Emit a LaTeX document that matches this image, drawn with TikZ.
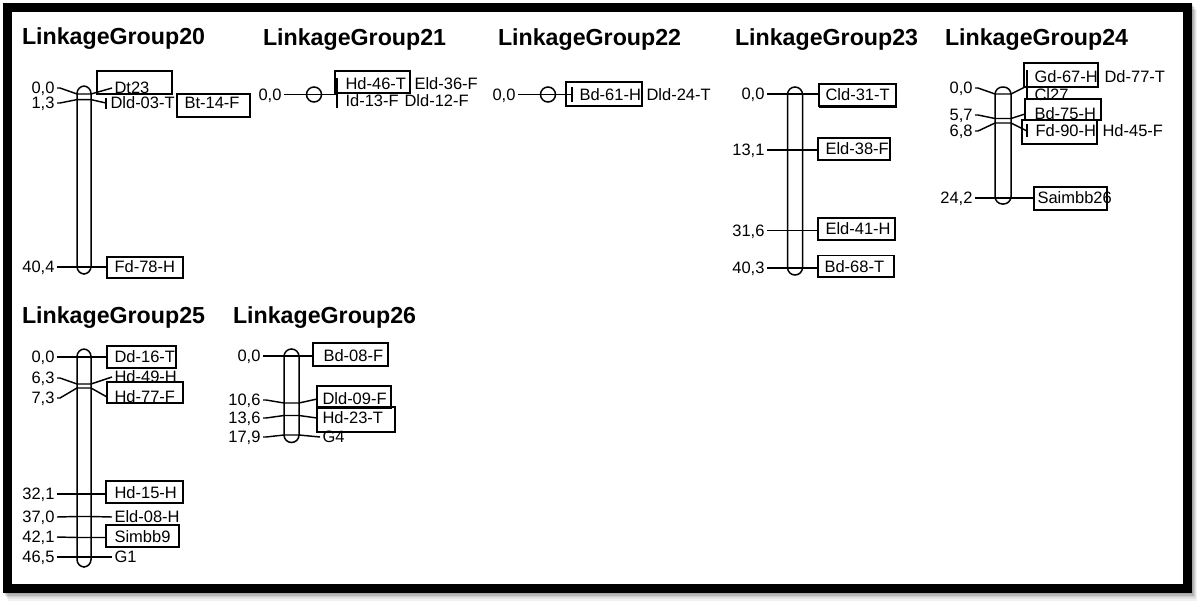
\documentclass[tikz,border=0pt]{standalone}
\usepackage{fontspec}
\setmainfont{Liberation Sans}
\usetikzlibrary{fit}

% left and right end points of a locus line across a chromosome bar
\newcommand\lgtick[4]{\coordinate (#1L) at (#2,#4); \coordinate (#1R) at (#3,#4);}

\begin{document}
\begin{tikzpicture}[x=1pt,y=-1pt,
  every node/.style={inner sep=0pt, outer sep=0pt},
  ttl/.style={font=\fontsize{23.2}{27}\selectfont\bfseries, anchor=base west},
  num/.style={font=\fontsize{16.5}{19}\selectfont, anchor=east, text height=11.8pt, text depth=0pt, outer sep=2.5pt},
  mk/.style={font=\fontsize{16.5}{19}\selectfont, anchor=west, text height=11.8pt, text depth=0pt, outer sep=2.5pt},
  lbox/.style={draw, line width=1.5pt, inner sep=0pt, outer sep=0pt},
  shedge/.style={line width=2.8pt},
  chrom/.style={draw, line width=1.5pt, rounded corners=7.5pt},
  conn/.style={line width=1.45pt},
  brk/.style={line width=1.45pt}]

\useasboundingbox (0,0) rectangle (1198,603);

% drop shadow, white sheet and black frame
\foreach \i/\o in {1/0.10,2/0.10,3/0.09,4/0.07,5/0.05}{
  \draw[line width=9pt, black, opacity=\o] (7.5+\i,7.5+1.4*\i) rectangle (1187.5+\i,588+1.6*\i);
}
\fill[white] (12,12) rectangle (1183,584);
\draw[line width=9pt] (7.5,7.5) rectangle (1187.5,588);

% ---------------- LinkageGroup20
\node[ttl] (t20) at (22,44) {LinkageGroup20};
\draw[chrom] (77,86) rectangle (91,274);
\lgtick{g20a}{77}{91}{94}
\lgtick{g20b}{77}{91}{99.6}
\lgtick{g20c}{77}{91}{267}
\node[num] (g20an) at (57,88) {0,0};
\node[num] (g20bn) at (57,103) {1,3};
\node[num] (g20cn) at (57,267) {40,4};
\node[mk] (g20am) at (112,88) {Dt23};
\node[mk] (g20bm) at (108,103) {Dld-03-T};
\node[mk] (g20bm2) at (182,103) {Bt-14-F};
\node[mk] (g20cm) at (112,267) {Fd-78-H};
\node[lbox, fit={(97,71) (172,94)}] (g20ab) {};
\node[lbox, fit={(177,94) (250,117)}] (g20bb) {};
\node[lbox, fit={(107,257) (183,278)}] (g20cb) {};
\coordinate (g20bk) at (106,103);
\coordinate (g20bk1) at (106,98);
\coordinate (g20bk2) at (106,109);
\draw[brk] (g20bk1) -- (g20bk2);
\draw[conn] (g20an.east) -- ++(3,0) -- (g20aL) -- (g20aR) -- (g20am.west);
\draw[conn] (g20bn.east) -- ++(3,0) -- (g20bL) -- (g20bR) -- (g20bk);
\draw[conn] (g20cn.east) -- (g20cL) -- (g20cR) -- (g20cb.west |- g20cm.west);

% ---------------- LinkageGroup21
\node[ttl] (t21) at (263,45) {LinkageGroup21};
\draw[line width=1.5pt] (314,94.5) circle (7.5);
\lgtick{g21a}{306.5}{321.5}{94.5}
\node[num] (g21an) at (284,94.5) {0,0};
\node[mk] (g21am) at (343,84) {Hd-46-T};
\node[mk] (g21am2) at (412,84) {Eld-36-F};
\node[mk] (g21am3) at (343,101) {Id-13-F};
\node[mk] (g21am4) at (402,101) {Dld-12-F};
\node[lbox, fit={(335,71) (410,93)}] (g21ab) {};
\coordinate (g21bk) at (337,94.5);
\coordinate (g21bk1) at (337,78);
\coordinate (g21bk2) at (337,108);
\draw[brk] (g21bk1) -- (g21bk2);
\draw[conn] (g21an.east) -- (g21aL) -- (g21aR) -- (g21bk);

% ---------------- LinkageGroup22
\node[ttl] (t22) at (498,45) {LinkageGroup22};
\draw[line width=1.5pt] (548,94.5) circle (7.5);
\lgtick{g22a}{540.5}{555.5}{94.5}
\node[num] (g22an) at (518,94.5) {0,0};
\node[mk] (g22am) at (577,94.5) {Bd-61-H};
\node[mk] (g22am2) at (644,94.5) {Dld-24-T};
\node[lbox, fit={(566,82) (642,106)}] (g22ab) {};
\coordinate (g22bk) at (572,94.5);
\coordinate (g22bk1) at (572,87);
\coordinate (g22bk2) at (572,102);
\draw[brk] (g22bk1) -- (g22bk2);
\draw[conn] (g22an.east) -- (g22aL) -- (g22aR) -- (g22bk);

% ---------------- LinkageGroup23
\node[ttl] (t23) at (735,45) {LinkageGroup23};
\draw[chrom] (787.5,87) rectangle (802.5,275);
\lgtick{g23a}{787.5}{802.5}{94}
\lgtick{g23b}{787.5}{802.5}{150}
\lgtick{g23c}{787.5}{802.5}{230.5}
\lgtick{g23d}{787.5}{802.5}{268}
\node[num] (g23an) at (767,94) {0,0};
\node[num] (g23bn) at (767,150) {13,1};
\node[num] (g23cn) at (767,230.5) {31,6};
\node[num] (g23dn) at (767,268) {40,3};
\node[mk] (g23am) at (823,95) {Cld-31-T};
\node[mk] (g23bm) at (823,149) {Eld-38-F};
\node[mk] (g23cm) at (823,229) {Eld-41-H};
\node[mk] (g23dm) at (822,266.5) {Bd-68-T};
\node[lbox, fit={(819,84) (896,106.5)}] (g23ab) {};
\node[lbox, fit={(818,138) (890,160)}] (g23bb) {};
\node[lbox, fit={(818,218) (895,240)}] (g23cb) {};
\node[lbox, fit={(818,255.5) (894,277)}] (g23db) {};
\draw[shedge] (g23ab.south west) -- (g23ab.south east) -- (g23ab.north east);
\draw[shedge] (g23db.south west) -- (g23db.south east) -- (g23db.north east);
\draw[conn] (g23an.east) -- (g23aL) -- (g23aR) -- (g23ab.west |- g23aR);
\draw[conn] (g23bn.east) -- (g23bL) -- (g23bR) -- (g23bb.west |- g23bR);
\draw[conn] (g23cn.east) -- (g23cL) -- (g23cR) -- (g23cb.west |- g23cR);
\draw[conn] (g23dn.east) -- (g23dL) -- (g23dR) -- (g23db.west |- g23dR);

% ---------------- LinkageGroup24
\node[ttl] (t24) at (945,45) {LinkageGroup24};
\draw[chrom] (995,87) rectangle (1011,204);
\lgtick{g24a}{995}{1011}{94}
\lgtick{g24b}{995}{1011}{118.5}
\lgtick{g24c}{995}{1011}{123}
\lgtick{g24d}{995}{1011}{198}
\node[num] (g24an) at (975,88) {0,0};
\node[num] (g24bn) at (975,115) {5,7};
\node[num] (g24cn) at (975,131) {6,8};
\node[num] (g24dn) at (975,198) {24,2};
\node[mk] (g24am) at (1032,77) {Gd-67-H};
\node[mk] (g24am2) at (1102,77) {Dd-77-T};
\node[mk] (g24am3) at (1032,95) {Cl27};
\node[mk] (g24bm) at (1032,114) {Bd-75-H};
\node[mk] (g24cm) at (1033,131) {Fd-90-H};
\node[mk] (g24cm2) at (1100,131) {Hd-45-F};
\node[mk] (g24dm) at (1035,198) {Saimbb26};
\node[lbox, fit={(1024,63) (1098,87)}] (g24ab) {};
\node[lbox, fit={(1025,99) (1101,120)}] (g24bb) {};
\node[lbox, fit={(1022,120) (1097,144)}] (g24cb) {};
\node[lbox, fit={(1034,187) (1107,210)}] (g24db) {};
\draw[shedge] (g24bb.south west) -- (g24bb.south east) -- (g24bb.north east);
\draw[shedge] (g24db.south west) -- (g24db.south east);
\coordinate (g24ak) at (1027,86);
\coordinate (g24ak1) at (1027,70);
\coordinate (g24ak2) at (1027,98);
\coordinate (g24ck) at (1027,131);
\coordinate (g24ck1) at (1027,124);
\coordinate (g24ck2) at (1027,137);
\draw[brk] (g24ak1) -- (g24ak2);
\draw[brk] (g24ck1) -- (g24ck2);
\draw[conn] (g24an.east) -- ++(3,0) -- (g24aL) -- (g24aR) -- (g24ak);
\draw[conn] (g24bn.east) -- ++(3,0) -- (g24bL) -- (g24bR) -- (g24bb.west |- g24bm.west);
\draw[conn] (g24cn.east) -- ++(3,0) -- (g24cL) -- (g24cR) -- (g24ck);
\draw[conn] (g24dn.east) -- (g24dL) -- (g24dR) -- (g24dm.west);

% ---------------- LinkageGroup25
\node[ttl] (t25) at (22,323) {LinkageGroup25};
\draw[chrom] (77,349) rectangle (91,567);
\lgtick{g25a}{77}{91}{357}
\lgtick{g25b}{77}{91}{384}
\lgtick{g25c}{77}{91}{388}
\lgtick{g25d}{77}{91}{494}
\lgtick{g25e}{77}{91}{516.5}
\lgtick{g25f}{77}{91}{537.5}
\lgtick{g25g}{77}{91}{557}
\node[num] (g25an) at (57,357) {0,0};
\node[num] (g25bn) at (57,378) {6,3};
\node[num] (g25cn) at (57,398) {7,3};
\node[num] (g25dn) at (57,494) {32,1};
\node[num] (g25en) at (57,517) {37,0};
\node[num] (g25fn) at (57,537) {42,1};
\node[num] (g25gn) at (57,557) {46,5};
\node[mk] (g25am) at (112,357) {Dd-16-T};
\node[mk] (g25bm) at (112,377) {Hd-49-H};
\node[mk] (g25cm) at (112,397) {Hd-77-F};
\node[mk] (g25dm) at (112,493) {Hd-15-H};
\node[mk] (g25em) at (112,517) {Eld-08-H};
\node[mk] (g25fm) at (112,537) {Simbb9};
\node[mk] (g25gm) at (112,557) {G1};
\node[lbox, fit={(107,346) (176,368)}] (g25ab) {};
\node[lbox, fit={(107,382) (183,403)}] (g25cb) {};
\node[lbox, fit={(106,481) (183,503)}] (g25db) {};
\node[lbox, fit={(106,525) (179,547)}] (g25fb) {};
\draw[shedge] (g25db.south west) -- (g25db.south east) -- (g25db.north east);
\draw[conn] (g25an.east) -- (g25aL) -- (g25aR) -- (g25ab.west |- g25aR);
\draw[conn] (g25bn.east) -- ++(3,0) -- (g25bL) -- (g25bR) -- (g25bm.west);
\draw[conn] (g25cn.east) -- ++(3,0) -- (g25cL) -- (g25cR) -- (g25cb.west |- g25cm.west);
\draw[conn] (g25dn.east) -- (g25dL) -- (g25dR) -- (g25db.west |- g25dR);
\draw[conn] (g25en.east) -- (g25eL) -- (g25eR) -- (g25em.west);
\draw[conn] (g25fn.east) -- (g25fL) -- (g25fR) -- (g25fb.west |- g25fR);
\draw[conn] (g25gn.east) -- (g25gL) -- (g25gR) -- (g25gm.west);

% ---------------- LinkageGroup26
\node[ttl] (t26) at (233,323) {LinkageGroup26};
\draw[chrom] (284,349) rectangle (299,442.5);
\lgtick{g26a}{284}{299}{356}
\lgtick{g26b}{284}{299}{403}
\lgtick{g26c}{284}{299}{415.5}
\lgtick{g26d}{284}{299}{435}
\node[num] (g26an) at (263,356) {0,0};
\node[num] (g26bn) at (263,400) {10,6};
\node[num] (g26cn) at (263,418) {13,6};
\node[num] (g26dn) at (263,437) {17,9};
\node[mk] (g26am) at (321,356) {Bd-08-F};
\node[mk] (g26bm) at (320,399) {Dld-09-F};
\node[mk] (g26cm) at (320,418) {Hd-23-T};
\node[mk] (g26dm) at (320,437) {G4};
\node[lbox, fit={(313,343) (388,366)}] (g26ab) {};
\node[lbox, fit={(317,386) (391,408)}] (g26bb) {};
\node[lbox, fit={(317,407) (395,432)}] (g26cb) {};
\draw[shedge] (g26cb.south west) -- (g26cb.south east) -- (g26cb.north east);
\draw[conn] (g26an.east) -- (g26aL) -- (g26aR) -- (g26ab.west |- g26aR);
\draw[conn] (g26bn.east) -- ++(3,0) -- (g26bL) -- (g26bR) -- (g26bb.west |- g26bm.west);
\draw[conn] (g26cn.east) -- ++(3,0) -- (g26cL) -- (g26cR) -- (g26cb.west |- g26cm.west);
\draw[conn] (g26dn.east) -- ++(3,0) -- (g26dL) -- (g26dR) -- (g26dm.west);

\end{tikzpicture}
\end{document}
